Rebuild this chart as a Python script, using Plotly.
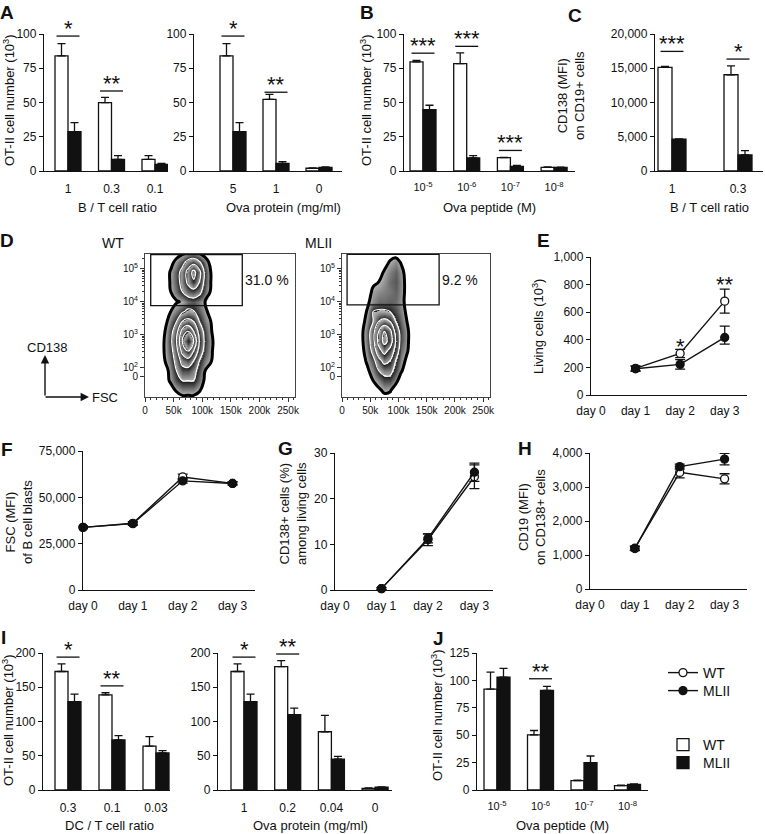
import math
import plotly.graph_objects as go

W, H = 765, 834
FONT = "Liberation Sans, Arial, Helvetica, sans-serif"
BLACK = "#111111"

# ---------------- data ----------------
# A (left): OT-II cell number (10^3) vs B / T cell ratio
A1_cats = ["1", "0.3", "0.1"]
A1_wt = [84.0, 49.9, 8.5]
A1_wt_sem = [9.0, 3.9, 2.7]
A1_ml = [28.7, 8.5, 4.9]
A1_ml_sem = [6.6, 2.7, 0.7]
A1_sig = [(0, "*", 98.5), (1, "**", 58.4)]

# A (right): vs Ova protein (mg/ml)
A2_cats = ["5", "1", "0"]
A2_wt = [84.0, 52.3, 2.0]
A2_wt_sem = [9.0, 3.7, 0.3]
A2_ml = [28.7, 5.6, 2.7]
A2_ml_sem = [6.6, 1.2, 0.3]
A2_sig = [(0, "*", 98.5), (1, "**", 57.5)]

# B: vs Ova peptide (M)
B_cats = ["10<sup>-5</sup>", "10<sup>-6</sup>", "10<sup>-7</sup>", "10<sup>-8</sup>"]
B_wt = [79.6, 78.4, 9.7, 2.7]
B_wt_sem = [1.2, 7.8, 0.3, 0.3]
B_ml = [44.8, 9.5, 3.4, 2.6]
B_ml_sem = [3.2, 1.7, 0.6, 0.2]
B_sig = [(0, "***", 86), (1, "***", 91), (2, "***", 15)]

# C: CD138 (MFI) on CD19+ cells vs B / T cell ratio
C_cats = ["1", "0.3"]
C_wt = [15120, 14050]
C_wt_sem = [150, 1300]
C_ml = [4634, 2341]
C_ml_sem = [60, 640]
C_sig = [(0, "***", 17460), (1, "*", 16340)]

# D: flow cytometry (FSC vs CD138), density
FLOW_FSC = [25000, 35000, 45000, 55000, 65000, 75000, 85000, 95000, 105000, 115000, 125000, 135000]
FLOW_CD138 = [1.0, 1.3, 1.6, 1.9, 2.2, 2.5, 2.8, 3.1, 3.4, 3.7, 4.0, 4.3, 4.6, 4.9, 5.2, 5.5]
FLOW_TICKVALS = [1.73, 2, 3, 4, 5]
FLOW_TICKTEXT = ["0", "10<sup>2</sup>", "10<sup>3</sup>", "10<sup>4</sup>", "10<sup>5</sup>"]
FSC_TICKVALS = [0, 50000, 100000, 150000, 200000, 250000]
FSC_TICKTEXT = ["0", "50k", "100k", "150k", "200k", "250k"]
WT_density = [
    [0, 0, 0, 0, 0, 0, 0, 0, 0, 0, 0, 0],
    [0, 0, 0, 0.6, 1, 1, 1, 0.6, 0, 0, 0, 0],
    [0, 0, 0.7, 1.5, 2, 2, 2, 1.2, 0.3, 0, 0, 0],
    [0, 0, 0.9, 2, 3, 3, 2.5, 1.5, 0.5, 0, 0, 0],
    [0, 0.5, 1.2, 2.5, 4, 4.5, 3.5, 2, 1, 0.6, 0, 0],
    [0, 0.6, 1.5, 3, 5.5, 6.5, 5, 3, 1.5, 0.7, 0, 0],
    [0, 0.6, 1.7, 3.5, 6.5, 8, 6.5, 3.5, 1.7, 0.8, 0, 0],
    [0, 0.5, 1.5, 3, 5.5, 6.5, 5, 3, 1.5, 0.6, 0, 0],
    [0, 0.2, 1, 2, 3.5, 4, 3.5, 2, 1, 0.5, 0, 0],
    [0, 0, 0.5, 1.1, 1.8, 2.3, 2.1, 1.4, 0.7, 0.2, 0, 0],
    [0, 0, 0.2, 0.4, 0.6, 1.2, 1.4, 1.0, 0.5, 0.1, 0, 0],
    [0, 0, 0.5, 1.2, 2, 2.8, 3, 2.5, 1.2, 0.4, 0, 0],
    [0, 0, 0.6, 1.4, 2.5, 3.8, 4.8, 3.5, 1.5, 0.5, 0, 0],
    [0, 0, 0.6, 1.4, 2.5, 4, 5.5, 4, 1.6, 0.5, 0, 0],
    [0, 0, 0.2, 0.8, 1.5, 2.5, 3, 2.2, 1, 0.2, 0, 0],
    [0, 0, 0, 0, 0.2, 0.4, 0.5, 0.3, 0, 0, 0, 0],
]
ML_density = [
    [0, 0, 0, 0, 0, 0, 0, 0, 0, 0, 0, 0],
    [0, 0, 0, 0, 0.3, 0.7, 0.6, 0, 0, 0, 0, 0],
    [0, 0, 0, 0.5, 1, 1.5, 1.5, 0.8, 0, 0, 0, 0],
    [0, 0, 0.3, 1, 2, 2.5, 2.5, 1.5, 0.6, 0, 0, 0],
    [0, 0, 0.7, 1.5, 3, 4, 3.5, 2, 0.9, 0.3, 0, 0],
    [0, 0.2, 1, 2.5, 4.5, 5.5, 4.5, 3, 1.2, 0.6, 0, 0],
    [0, 0.3, 1.2, 3, 5.5, 7, 6, 3.5, 1.5, 0.7, 0, 0],
    [0, 0.3, 1.2, 3, 5, 6.5, 5.5, 3, 1.5, 0.7, 0, 0],
    [0, 0.1, 0.9, 2, 3.5, 4, 3.5, 2, 1.2, 0.5, 0, 0],
    [0, 0, 0.6, 2, 2.2, 2.2, 2, 1.5, 1, 0.3, 0, 0],
    [0, 0, 0.3, 0.9, 1.2, 1.2, 1.3, 1.2, 0.8, 0.2, 0, 0],
    [0, 0, 0, 0.7, 0.9, 1.0, 1.1, 1.3, 0.9, 0.2, 0, 0],
    [0, 0, 0, 0.3, 0.5, 0.8, 1.2, 1.4, 0.9, 0.2, 0, 0],
    [0, 0, 0, 0, 0.1, 0.6, 1.0, 1.3, 0.8, 0.1, 0, 0],
    [0, 0, 0, 0, 0, 0.1, 0.6, 0.9, 0.4, 0, 0, 0],
    [0, 0, 0, 0, 0, 0, 0, 0, 0, 0, 0, 0],
]
WT_gate = [10000, 170000, 3.88, 5.43]
ML_gate = [9000, 172000, 3.90, 5.44]
WT_pct = "31.0 %"
ML_pct = "9.2 %"

# E-H: time courses
days = [0, 1, 2, 3]
day_labels = ["day 0", "day 1", "day 2", "day 3"]

E_wt = [None, 193, 301, 680]
E_wt_up = [0, 18, 30, 87]
E_wt_dn = [0, 18, 30, 87]
E_ml = [None, 190, 222, 417]
E_ml_up = [0, 18, 35, 82]
E_ml_dn = [0, 18, 35, 48]
E_sig = [(2, "*", 384), (3, "**", 833)]

F_wt = [33800, 36000, 61000, 57500]
F_wt_sem = [700, 900, 1500, 800]
F_ml = [33800, 35800, 58900, 57500]
F_ml_sem = [700, 900, 1200, 800]

G_wt = [None, 0.3, 11.0, 24.8]
G_wt_sem = [0, 0.2, 1.3, 2.6]
G_ml = [None, 0.3, 11.3, 25.8]
G_ml_sem = [0, 0.2, 1.0, 2.0]

H_wt = [None, 1200, 3430, 3240]
H_wt_sem = [0, 60, 160, 150]
H_ml = [None, 1190, 3600, 3820]
H_ml_sem = [0, 60, 70, 170]
H_sig = [(3, "*", 4240)]

# I (left): vs DC / T cell ratio
I1_cats = ["0.3", "0.1", "0.03"]
I1_wt = [173, 139, 64]
I1_wt_sem = [11, 3, 14]
I1_ml = [129, 73, 54]
I1_ml_sem = [11, 6.5, 3.5]
I1_sig = [(0, "*", 194), (1, "**", 152)]

# I (right): vs Ova protein (mg/ml)
I2_cats = ["1", "0.2", "0.04", "0"]
I2_wt = [173, 180, 85, 2.5]
I2_wt_sem = [11, 9, 24, 0.5]
I2_ml = [129, 110, 45, 4]
I2_ml_sem = [11, 9.5, 4, 0.5]
I2_sig = [(0, "*", 194), (1, "**", 198.5)]

# J: vs Ova peptide (M)
J_cats = ["10<sup>-5</sup>", "10<sup>-6</sup>", "10<sup>-7</sup>", "10<sup>-8</sup>"]
J_wt = [92, 50.3, 8.5, 4]
J_wt_sem = [15.6, 4, 0.6, 0.5]
J_ml = [103, 90.9, 25, 5]
J_ml_sem = [8, 3.6, 6, 0.5]
J_sig = [(1, "**", 101.5)]

# ---------------- helpers ----------------
fig = go.Figure()
layout = {}
annotations = []
shapes = []


def names(k):
    return ("x" if k == 1 else f"x{k}", "y" if k == 1 else f"y{k}",
            "xaxis" if k == 1 else f"xaxis{k}", "yaxis" if k == 1 else f"yaxis{k}")


def xdom(a, b):
    return [a / W, b / W]


def ydom(top, bottom):
    return [1 - bottom / H, 1 - top / H]


def text(px, py, s, size=13, bold=False, angle=0, xanchor="center", yanchor="middle"):
    annotations.append(dict(x=px / W, y=1 - py / H, xref="paper", yref="paper", text=s,
                            showarrow=False, textangle=angle, xanchor=xanchor, yanchor=yanchor,
                            font=dict(family=FONT, size=size, color=BLACK,
                                      weight="bold" if bold else "normal")))


def yaxis_common(yr, tickvals, fmt):
    return dict(range=yr, tickvals=tickvals, tickformat=fmt, ticks="outside", ticklen=4,
                tickwidth=1.2, tickcolor=BLACK, showline=True, linecolor=BLACK, linewidth=1.3,
                showgrid=False, zeroline=False, fixedrange=True, automargin=False,
                tickfont=dict(family=FONT, size=12, color=BLACK))


def star(xa, ya, x, y, s, anchor="bottom", shift=-7):
    annotations.append(dict(x=x, y=y, xref=xa, yref=ya, text=s, showarrow=False,
                            yanchor=anchor, yshift=shift,
                            font=dict(family=FONT, size=22, color=BLACK)))


def bar_panel(k, cats, wt, wt_sem, ml, ml_sem, sig, geom, yr, ytickvals, fmt="",
              tickfont=12, legend=False):
    xa, ya, xn, yn = names(k)
    x0p, x1p, firstp, stepp, barp, ytop, ybot = geom
    w = barp / stepp
    idx = list(range(len(cats)))
    for vals, sem, fill, nm, lg in ((wt, wt_sem, "white", "WT", "legend3"),
                                    (ml, ml_sem, BLACK, "MLII", "legend4")):
        fig.add_trace(go.Bar(
            x=[i - w / 2 if nm == "WT" else i + w / 2 for i in idx], y=vals, width=w,
            marker=dict(color=fill, line=dict(color=BLACK, width=1.3)),
            error_y=dict(type="data", symmetric=False, array=sem, arrayminus=[0] * len(idx),
                         color=BLACK, thickness=1.3, width=4),
            xaxis=xa, yaxis=ya, name=nm, showlegend=legend, legend=lg,
            hoverinfo="skip"))
    hb = 11.5 / stepp
    for i, s, lvl in sig:
        fig.add_trace(go.Scatter(x=[i - hb, i + hb], y=[lvl, lvl], mode="lines",
                                 line=dict(color=BLACK, width=1.3), xaxis=xa, yaxis=ya,
                                 showlegend=False, hoverinfo="skip", cliponaxis=False))
        star(xa, ya, i, lvl, s)
    layout[xn] = dict(domain=xdom(x0p, x1p), anchor=ya,
                      range=[(x0p - firstp) / stepp, (x1p - firstp) / stepp],
                      tickvals=idx, ticktext=cats, ticks="outside", ticklen=6,
                      tickcolor="rgba(0,0,0,0)", showline=True, linecolor=BLACK,
                      linewidth=1.3, showgrid=False, zeroline=False, fixedrange=True,
                      automargin=False,
                      tickfont=dict(family=FONT, size=tickfont, color=BLACK))
    layout[yn] = dict(domain=ydom(ytop, ybot), anchor=xa, **yaxis_common(yr, ytickvals, fmt))


def line_panel(k, wt, wt_up, wt_dn, ml, ml_up, ml_dn, geom, xr, yr, ytickvals, fmt="",
               legend=False):
    xa, ya, xn, yn = names(k)
    x0p, x1p, ytop, ybot = geom
    for vals, up, dn, fill, nm, lg in ((wt, wt_up, wt_dn, "white", "WT", "legend"),
                                       (ml, ml_up, ml_dn, BLACK, "MLII", "legend2")):
        fig.add_trace(go.Scatter(
            x=days, y=vals, mode="lines+markers", name=nm,
            line=dict(color=BLACK, width=1.4),
            marker=dict(symbol="circle", size=8, color=fill, line=dict(color=BLACK, width=1.3)),
            error_y=dict(type="data", symmetric=False, array=up, arrayminus=dn,
                         color=BLACK, thickness=1.3, width=5),
            xaxis=xa, yaxis=ya, showlegend=legend, legend=lg, cliponaxis=False,
            hoverinfo="skip"))
    layout[xn] = dict(domain=xdom(x0p, x1p), anchor=ya, range=xr, tickvals=days,
                      ticktext=day_labels, ticks="outside", ticklen=4,
                      tickcolor="rgba(0,0,0,0)", showline=True, linecolor=BLACK,
                      linewidth=1.3, showgrid=False, zeroline=False, fixedrange=True,
                      automargin=False,
                      tickfont=dict(family=FONT, size=12, color=BLACK))
    layout[yn] = dict(domain=ydom(ytop, ybot), anchor=xa, **yaxis_common(yr, ytickvals, fmt))


# zebra colorscale for flow contours
LEVELS = [0.5, 2.0, 3.5, 5.0, 6.5]
ZMAX = 8.0
zebra = [[0.0, "white"], [LEVELS[0] / ZMAX, "white"]]
for j, lv in enumerate(LEVELS):
    nxt = LEVELS[j + 1] if j + 1 < len(LEVELS) else ZMAX
    zebra.append([lv / ZMAX, "#b4b4b4"])
    zebra.append([nxt / ZMAX, "#1a1a1a"])


def flow_panel(k, dens, gate, pct, xd):
    xa, ya, xn, yn = names(k)
    fig.add_trace(go.Contour(
        x=FLOW_FSC, y=FLOW_CD138, z=dens, xaxis=xa, yaxis=ya, zmin=0, zmax=ZMAX,
        zauto=False, colorscale=zebra, showscale=False, hoverinfo="skip", showlegend=False,
        contours=dict(coloring="heatmap", start=LEVELS[0], end=LEVELS[-1], size=1.5),
        line=dict(color="white", width=1.1, smoothing=1.3)))
    fig.add_trace(go.Contour(
        x=FLOW_FSC, y=FLOW_CD138, z=dens, xaxis=xa, yaxis=ya, showscale=False,
        hoverinfo="skip", showlegend=False,
        contours=dict(coloring="none", start=LEVELS[0], end=LEVELS[0], size=1),
        line=dict(color="black", width=3, smoothing=1.3)))
    shapes.append(dict(type="rect", xref=xa, yref=ya, x0=gate[0], x1=gate[1], y0=gate[2],
                       y1=gate[3], line=dict(color=BLACK, width=1.3)))
    annotations.append(dict(x=gate[1], y=(gate[2] + gate[3]) / 2, xref=xa, yref=ya, text=pct,
                            showarrow=False, xanchor="left", xshift=1,
                            font=dict(family=FONT, size=14, color=BLACK)))
    minor_y = [n + math.log10(m) for n in (2, 3, 4, 5) for m in range(2, 10)
               if n + math.log10(m) < 5.45]
    layout[xn] = dict(domain=xdom(*xd), anchor=ya, range=[0, 262144],
                      tickvals=FSC_TICKVALS, ticktext=FSC_TICKTEXT, ticks="outside",
                      ticklen=4, tickcolor="#333", showline=True, mirror=True,
                      linecolor="#444", linewidth=1, showgrid=False, zeroline=False,
                      fixedrange=True, automargin=False,
                      tickfont=dict(family=FONT, size=10, color=BLACK),
                      minor=dict(tickmode="linear", tick0=0, dtick=10000, ticks="outside",
                                 ticklen=2, tickcolor="#333"))
    layout[yn] = dict(domain=ydom(254, 397), anchor=xa, range=[1.1, 5.45],
                      tickvals=FLOW_TICKVALS, ticktext=FLOW_TICKTEXT, ticks="outside",
                      ticklen=4, tickcolor="#333", showline=True, mirror=True,
                      linecolor="#444", linewidth=1, showgrid=False, zeroline=False,
                      fixedrange=True, automargin=False,
                      tickfont=dict(family=FONT, size=10, color=BLACK),
                      minor=dict(tickmode="array", tickvals=minor_y, ticks="outside",
                                 ticklen=2, tickcolor="#333"))


# ---------------- panels ----------------
bar_panel(1, A1_cats, A1_wt, A1_wt_sem, A1_ml, A1_ml_sem, A1_sig,
          (44, 168, 68, 43.5, 13, 34, 171), [0, 100], [0, 25, 50, 75, 100], legend=True)
bar_panel(2, A2_cats, A2_wt, A2_wt_sem, A2_ml, A2_ml_sem, A2_sig,
          (194, 342, 233, 43, 13, 34, 171), [0, 100], [0, 25, 50, 75, 100])
bar_panel(3, B_cats, B_wt, B_wt_sem, B_ml, B_ml_sem, B_sig,
          (404, 575, 423, 43.7, 13, 34, 171), [0, 100], [0, 25, 50, 75, 100], tickfont=11)
bar_panel(4, C_cats, C_wt, C_wt_sem, C_ml, C_ml_sem, C_sig,
          (655, 763, 672, 66, 14, 34, 171), [0, 20000], [0, 5000, 10000, 15000, 20000], fmt=",")

flow_panel(5, WT_density, WT_gate, WT_pct, (145, 295))
flow_panel(6, ML_density, ML_gate, ML_pct, (342, 490))

line_panel(7, E_wt, E_wt_up, E_wt_dn, E_ml, E_ml_up, E_ml_dn, (591, 747, 257, 395),
           [0, 3.5], [0, 1000], [0, 200, 400, 600, 800, 1000], fmt=",", legend=True)
for d, s, v in E_sig:
    star("x7", "y7", d, v, s, anchor="middle", shift=-4)
line_panel(8, F_wt, F_wt_sem, F_wt_sem, F_ml, F_ml_sem, F_ml_sem, (83, 255, 451, 590),
           [0, 3.45], [0, 75000], [0, 25000, 50000, 75000], fmt=",")
line_panel(9, G_wt, G_wt_sem, G_wt_sem, G_ml, G_ml_sem, G_ml_sem, (335, 493, 453, 590),
           [0, 3.4], [0, 30], [0, 10, 20, 30])
line_panel(10, H_wt, H_wt_sem, H_wt_sem, H_ml, H_ml_sem, H_ml_sem, (590, 747, 453, 589),
           [0, 3.5], [0, 4000], [0, 1000, 2000, 3000, 4000], fmt=",")
for d, s, v in H_sig:
    star("x10", "y10", d, v, s, anchor="middle", shift=-4)

bar_panel(11, I1_cats, I1_wt, I1_wt_sem, I1_ml, I1_ml_sem, I1_sig,
          (43, 170, 68, 44, 13, 653, 790), [0, 200], [0, 50, 100, 150, 200])
bar_panel(12, I2_cats, I2_wt, I2_wt_sem, I2_ml, I2_ml_sem, I2_sig,
          (218, 392, 244, 43.7, 13, 653, 790), [0, 200], [0, 50, 100, 150, 200])
bar_panel(13, J_cats, J_wt, J_wt_sem, J_ml, J_ml_sem, J_sig,
          (477, 648, 497, 43.5, 13, 653, 790), [0, 125], [0, 25, 50, 75, 100, 125], tickfont=11)

# ---------------- texts ----------------
for s, px, py in (("A", 7, 12), ("B", 367, 12), ("C", 575, 15), ("D", 7, 241), ("E", 543, 240),
                  ("F", 7, 449), ("G", 285, 448), ("H", 525, 448), ("I", 3, 637), ("J", 438, 638)):
    text(px, py, s, size=19, bold=True)

OT = "OT-II cell number (10<sup>3</sup>)"
text(9, 100, OT, angle=-90)
text(366, 100, OT, angle=-90)
text(571, 96, "CD138 (MFI)<br>on CD19+ cells", angle=-90)
text(538, 327, "Living cells (10<sup>3</sup>)", angle=-90)
text(19, 522, "FSC (MFI)<br>of B cell blasts", angle=-90)
text(293, 514, "CD138+ cells (%)<br>among living cells", angle=-90)
text(532, 517, "CD19 (MFI)<br>on CD138+ cells", angle=-90)
text(8, 720, OT, angle=-90)
text(437, 715, OT, angle=-90)

text(117, 207, "B / T cell ratio")
text(283, 207, "Ova protein (mg/ml)")
text(490, 207, "Ova peptide (M)")
text(709, 207, "B / T cell ratio")
text(110, 825, "DC / T cell ratio")
text(310, 825, "Ova protein (mg/ml)")
text(562, 825, "Ova peptide (M)")

text(113, 243, "WT", size=14)
text(318, 243, "MLII", size=14)
text(47, 347, "CD138", size=13)
text(90, 398, "FSC", size=13, xanchor="left")
# axis arrows for the flow plots
annotations.append(dict(x=45 / W, y=1 - 355 / H, xref="paper", yref="paper", ax=0, ay=42,
                        showarrow=True, arrowhead=2, arrowsize=1.2, arrowwidth=1.4,
                        arrowcolor=BLACK, text=""))
annotations.append(dict(x=89 / W, y=1 - 397 / H, xref="paper", yref="paper", ax=-45, ay=0,
                        showarrow=True, arrowhead=2, arrowsize=1.2, arrowwidth=1.4,
                        arrowcolor=BLACK, text=""))


def legend_box(top_px):
    return dict(x=663 / W, y=1 - top_px / H, xanchor="left", yanchor="top",
                font=dict(family=FONT, size=14, color=BLACK), bgcolor="rgba(0,0,0,0)",
                tracegroupgap=0, itemclick=False)


fig.update_layout(
    width=W, height=H, autosize=False, margin=dict(l=0, r=0, t=0, b=0, pad=0),
    paper_bgcolor="white", plot_bgcolor="rgba(0,0,0,0)", barmode="overlay",
    font=dict(family=FONT, size=12, color=BLACK),
    annotations=annotations, shapes=shapes,
    legend=legend_box(657), legend2=legend_box(675),
    legend3=legend_box(729), legend4=legend_box(747),
    **layout,
)

fig.write_html("out.html", config={"displayModeBar": False},
               post_script="document.body.style.margin='0px';")
